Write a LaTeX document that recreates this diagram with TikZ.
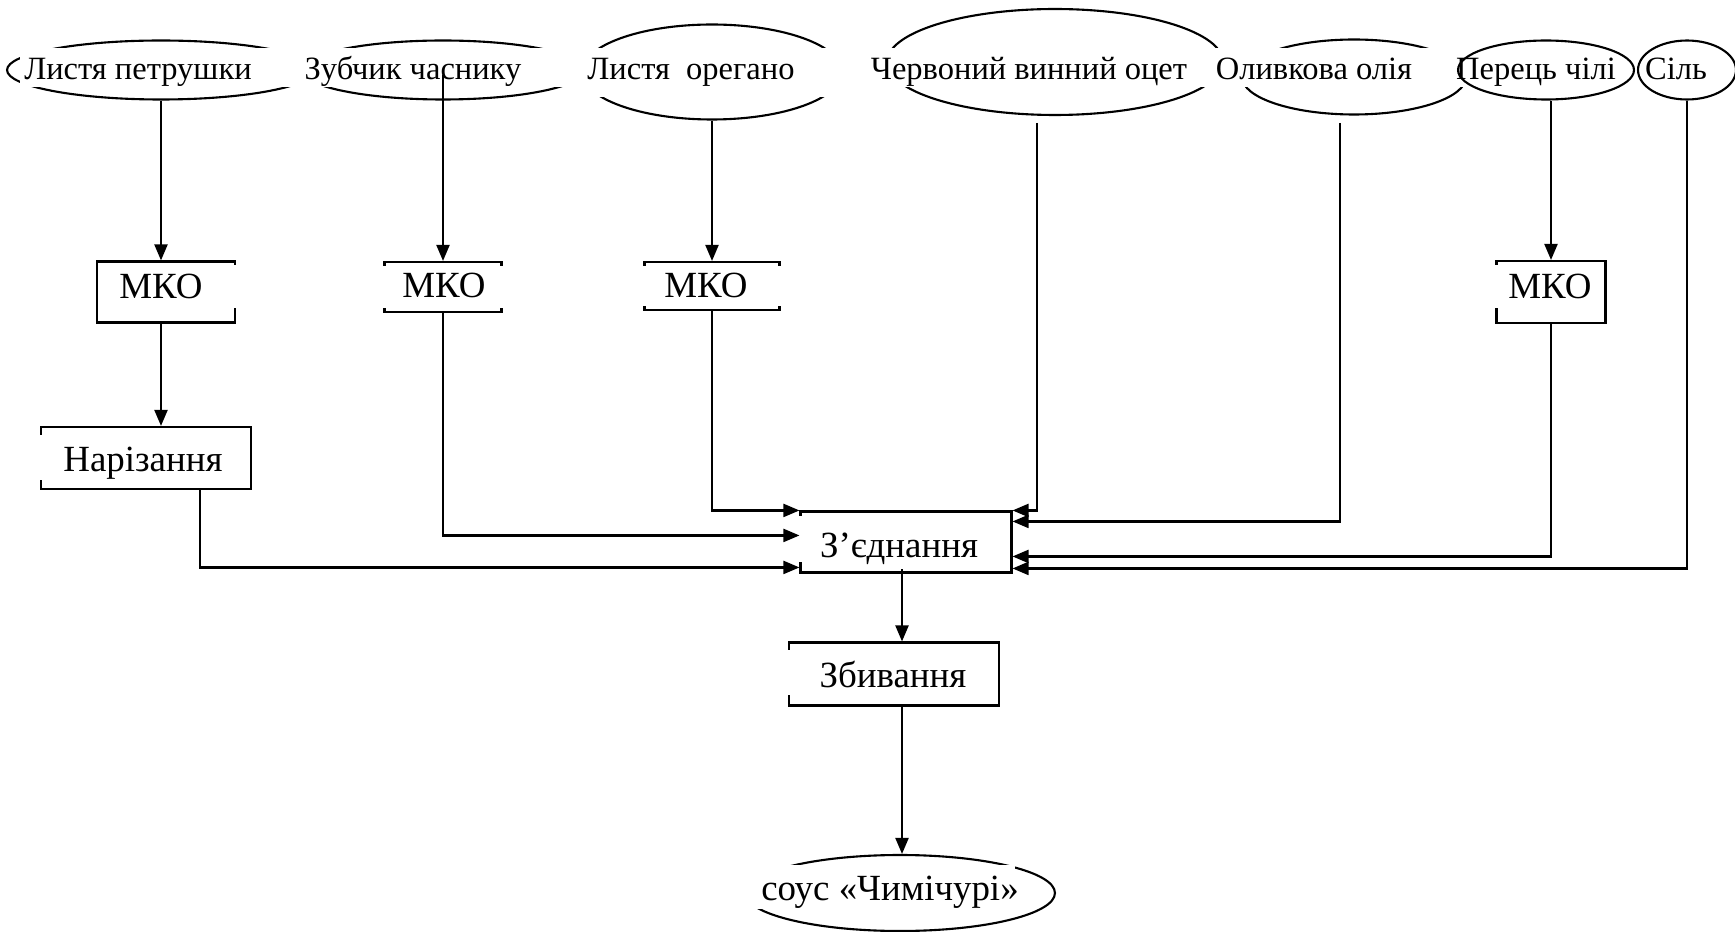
\documentclass[tikz,border=0pt]{standalone}
\usepackage{fontspec}
\setmainfont{Liberation Serif}
\usetikzlibrary{positioning, arrows.meta, shapes.geometric, calc}

\begin{document}
\begin{tikzpicture}[
    x=0.02cm, y=-0.02cm,
    ingr/.style={
        ellipse,
        draw=black,
        line width=1.2pt,
        inner sep=0pt
    },
    box/.style={
        rectangle,
        draw=black,
        line width=1.2pt,
        inner sep=0pt
    },
    cover/.style={fill=white},
    txt/.style={font=\fontsize{18.5}{22}\selectfont, inner sep=0pt, anchor=base},
    btxt/.style={font=\fontsize{21}{25}\selectfont, inner sep=0pt, anchor=base},
    arrow/.style={-{Triangle[length=0.32cm, width=0.26cm]}, line width=1.2pt}
]
\useasboundingbox (0, 0) rectangle (1735, 932);

% === Top row: ingredients ===
\node[ingr, minimum width=6.16cm, minimum height=1.18cm] (e1) at (161, 70) {};
\fill[cover] (20, 48) rectangle (322, 87);
\node[txt] (t1) at (138, 80) {Листя петрушки};

\node[ingr, minimum width=5.68cm, minimum height=1.18cm] (e2) at (443, 70) {};
\fill[cover] (298, 48) rectangle (592, 87);
\node[txt] (t2) at (413, 80) {Зубчик часнику};

\node[ingr, minimum width=5.2cm, minimum height=1.9cm] (e3) at (712, 72) {};
\fill[cover] (578, 48) rectangle (846, 97);
\node[txt] (t3) at (691, 80) {Листя\ \ орегано};

\node[ingr, minimum width=6.72cm, minimum height=2.12cm] (e4) at (1055, 62) {};
\fill[cover] (866, 48) rectangle (1228, 87);
\node[txt] (t4) at (1029, 80) {Червоний винний оцет};

\node[ingr, minimum width=4.48cm, minimum height=1.5cm] (e5) at (1354, 77) {};
\fill[cover] (1210, 48) rectangle (1468, 87);
\node[txt] (t5) at (1314, 80) {Оливкова олія};

\node[ingr, minimum width=3.52cm, minimum height=1.18cm] (e6) at (1546, 70) {};
\node[txt] (t6) at (1536, 80) {Перець чілі};

\node[ingr, minimum width=1.96cm, minimum height=1.18cm] (e7) at (1687, 70) {};
\node[txt] (t7) at (1676, 80) {Сіль};

% free ends of the lines under the ellipses
\coordinate (o2) at (443, 75);
\coordinate (o4) at (1037, 123);
\coordinate (o5) at (1340, 123);

% === Second row: MKO ===
\node[box, minimum width=2.76cm, minimum height=1.22cm] (m1) at (166, 292) {};
\fill[cover] (100, 265) rectangle (240, 308);
\node[btxt] (m1t) at (161, 299) {МКО};

\node[box, minimum width=2.34cm, minimum height=1cm] (m2) at (443, 287) {};
\fill[cover] (380, 266) rectangle (507, 308);
\node[btxt] (m2t) at (444, 298) {МКО};

\node[box, minimum width=2.7cm, minimum height=0.96cm] (m3) at (712, 286) {};
\fill[cover] (640, 266) rectangle (785, 306);
\node[btxt] (m3t) at (706, 298) {МКО};

\node[box, minimum width=2.18cm, minimum height=1.24cm] (m4) at (1551, 292) {};
\fill[cover] (1490, 265) rectangle (1600, 308);
\node[btxt] (m4t) at (1550, 299) {МКО};

% === Processing ===
\node[box, minimum width=4.2cm, minimum height=1.24cm] (nar) at (146, 458) {};
\fill[cover] (35, 435) rectangle (245, 480);
\node[btxt] (nart) at (143, 472) {Нарізання};

\node[box, minimum width=4.22cm, minimum height=1.22cm] (zed) at (906, 542) {};
\fill[cover] (795, 516) rectangle (1005, 562);
\node[btxt] (zedt) at (899, 558) {З’єднання};

\node[box, minimum width=4.2cm, minimum height=1.26cm] (zb) at (894, 674) {};
\fill[cover] (783, 650) rectangle (993, 695);
\node[btxt] (zbt) at (893, 687) {Збивання};

\node[ingr, minimum width=6.2cm, minimum height=1.52cm] (fin) at (900, 893) {};
\fill[cover] (730, 865) rectangle (1015, 909);
\node[btxt] (fint) at (890, 900) {соус «Чимічурі»};

% free ends of the lines between the bottom boxes
\coordinate (zo) at (902, 569);
\coordinate (bo) at (902, 706);

% === Arrows: ingredients to MKO ===
\draw[arrow] (e1.south) -- (e1.south |- m1.north);
\draw[arrow] (o2) -- (o2 |- m2.north);
\draw[arrow] (e3.south) -- (e3.south |- m3.north);
\draw[arrow] (m4.north |- e6.south) -- (m4.north);
\draw[arrow] (e1.south |- m1.south) -- (e1.south |- nar.north);

% === Arrows into joining ===
\draw[arrow] (m3.south) |- (zed.north west);
\draw[arrow] (m2.south) |- ($(zed.north west)+(0, 25)$);
\draw[arrow] ($(nar.south)+(54, 0)$) |- ($(zed.north west)+(0, 57)$);
\draw[arrow] (o4) |- (zed.north east);
\draw[arrow] (o5) |- ($(zed.north east)+(0, 11)$);
\draw[arrow] (m4.south) |- ($(zed.north east)+(0, 46)$);
\draw[arrow] (e7.south) |- ($(zed.north east)+(0, 58)$);

% === Output ===
\draw[arrow] (zo) -- (zo |- zb.north);
\draw[arrow] (bo) -- (bo |- fin.north);

\end{tikzpicture}
\end{document}
